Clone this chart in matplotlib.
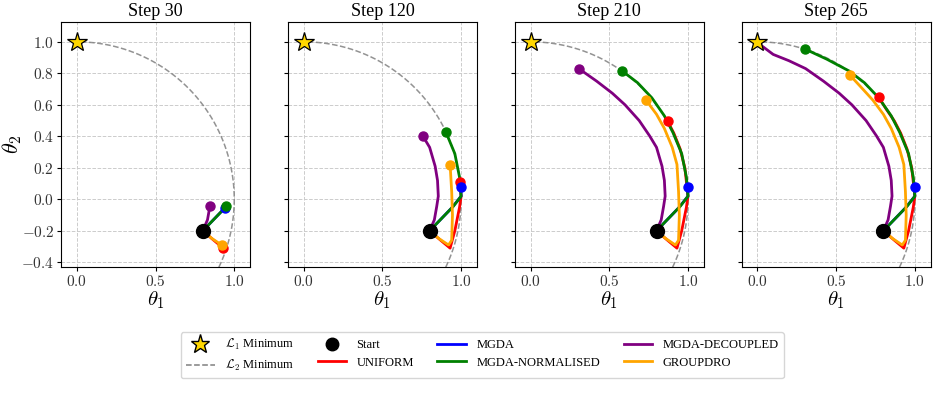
import matplotlib
matplotlib.use("Agg")
import matplotlib.pyplot as plt
import matplotlib.ticker as mticker
from matplotlib.lines import Line2D
import numpy as np

plt.rcParams['font.family'] = 'serif'
plt.rcParams['font.serif'] = ['Liberation Serif', 'DejaVu Serif']
plt.rcParams['mathtext.fontset'] = 'cm'

steps = [30, 120, 210, 265]
start = (0.80, -0.20)
l1_min = (0.0, 1.0)

# trajectories (waypoints), first point is the start
uniform_x = [0.80, 0.87, 0.93, 0.96, 0.99, 1.00, 0.99, 0.98, 0.95, 0.91, 0.87, 0.82, 0.77]
uniform_y = [-0.20, -0.26, -0.31, -0.20, -0.05, 0.02, 0.11, 0.20, 0.32, 0.42, 0.497, 0.57, 0.648]
uniform_end = [2, 6, 10, 12]

mgda_x = [0.80, 0.94, 1.00, 0.998]
mgda_y = [-0.20, -0.055, 0.02, 0.08]
mgda_end = [1, 3, 3, 3]

norm_x = [0.80, 0.95, 1.00, 0.99, 0.96, 0.904, 0.85, 0.77, 0.68, 0.582, 0.44, 0.30]
norm_y = [-0.20, -0.045, 0.02, 0.14, 0.29, 0.425, 0.53, 0.645, 0.74, 0.815, 0.89, 0.955]
norm_end = [1, 5, 9, 11]

decoup_x = [0.80, 0.83, 0.845, 0.855, 0.85, 0.835, 0.80, 0.756, 0.69, 0.60, 0.52, 0.42, 0.306, 0.20, 0.10, 0.02]
decoup_y = [-0.20, -0.13, -0.045, 0.02, 0.12, 0.21, 0.33, 0.403, 0.50, 0.60, 0.673, 0.75, 0.83, 0.88, 0.92, 0.98]
decoup_end = [2, 7, 12, 15]

gdro_x = [0.80, 0.86, 0.92, 0.94, 0.945, 0.94, 0.93, 0.90, 0.85, 0.80, 0.733, 0.66, 0.586]
gdro_y = [-0.20, -0.25, -0.29, -0.26, -0.10, 0.05, 0.221, 0.33, 0.45, 0.54, 0.63, 0.71, 0.79]
gdro_end = [2, 6, 10, 12]

methods = [
    ('UNIFORM', 'red', uniform_x, uniform_y, uniform_end),
    ('MGDA', 'blue', mgda_x, mgda_y, mgda_end),
    ('MGDA-NORMALISED', 'green', norm_x, norm_y, norm_end),
    ('MGDA-DECOUPLED', 'purple', decoup_x, decoup_y, decoup_end),
    ('GROUPDRO', 'orange', gdro_x, gdro_y, gdro_end),
]

fig, axes = plt.subplots(1, 4, figsize=(9.4, 4.04), dpi=100, sharey=True)
fig.subplots_adjust(left=0.065, right=0.990, top=0.946, bottom=0.339, wspace=0.201)

theta = np.linspace(-0.6, np.pi / 2, 200)

for k, ax in enumerate(axes):
    ax.plot(np.cos(theta), np.sin(theta), '--', color='gray', lw=1.1, alpha=0.85, zorder=2)
    for name, col, xs, ys, ends in methods:
        e = ends[k]
        ax.plot(xs[:e + 1], ys[:e + 1], color=col, lw=2, zorder=3,
                solid_capstyle='round')
    for name, col, xs, ys, ends in methods:
        e = ends[k]
        if name == 'MGDA-DECOUPLED' and k == 3:
            continue
        ax.plot(xs[e], ys[e], 'o', color=col, ms=6.5, zorder=4)
    ax.plot(*start, 'o', color='black', ms=10, zorder=5)
    ax.plot(*l1_min, '*', color='gold', mec='black', mew=0.9, ms=15, zorder=6)

    ax.set_xlim(-0.1, 1.1)
    ax.set_ylim(-0.43, 1.127)
    ax.set_xticks([0.0, 0.5, 1.0])
    ax.set_yticks([-0.4, -0.2, 0.0, 0.2, 0.4, 0.6, 0.8, 1.0])
    fmt = mticker.FuncFormatter(lambda v, p: '$%.1f$' % v)
    ax.xaxis.set_major_formatter(fmt)
    ax.yaxis.set_major_formatter(fmt)
    ax.tick_params(labelsize=11, length=3, pad=2, labelcolor='#333333')
    ax.grid(True, linestyle='--', color='#cccccc', lw=0.7)
    ax.set_axisbelow(True)
    ax.set_title('Step %d' % steps[k], fontsize=13, pad=4)
    ax.set_xlabel(r'$\theta_1$', fontsize=15, labelpad=0)

axes[0].set_ylabel(r'$\theta_2$', fontsize=16)
axes[0].yaxis.set_label_coords(-0.195, 0.5)

handles = [
    Line2D([], [], marker='*', color='gold', mec='black', ls='none', ms=14),
    Line2D([], [], ls='--', color='gray', lw=1.1),
    Line2D([], [], marker='o', color='black', ls='none', ms=9),
    Line2D([], [], color='red', lw=2),
    Line2D([], [], color='blue', lw=2),
    Line2D([], [], color='green', lw=2),
    Line2D([], [], color='purple', lw=2),
    Line2D([], [], color='orange', lw=2),
]
labels = [r'$\mathcal{L}_1$ Minimum', r'$\mathcal{L}_2$ Minimum', 'Start', 'UNIFORM',
          'MGDA', 'MGDA-NORMALISED', 'MGDA-DECOUPLED', 'GROUPDRO']
fig.legend(handles, labels, ncol=4, loc='center', bbox_to_anchor=(0.513, 0.121),
           fontsize=9, frameon=True, columnspacing=1.9, handlelength=2.3,
           handletextpad=0.8, labelspacing=0.45, borderpad=0.4)

fig.savefig('out.png', dpi=100)
